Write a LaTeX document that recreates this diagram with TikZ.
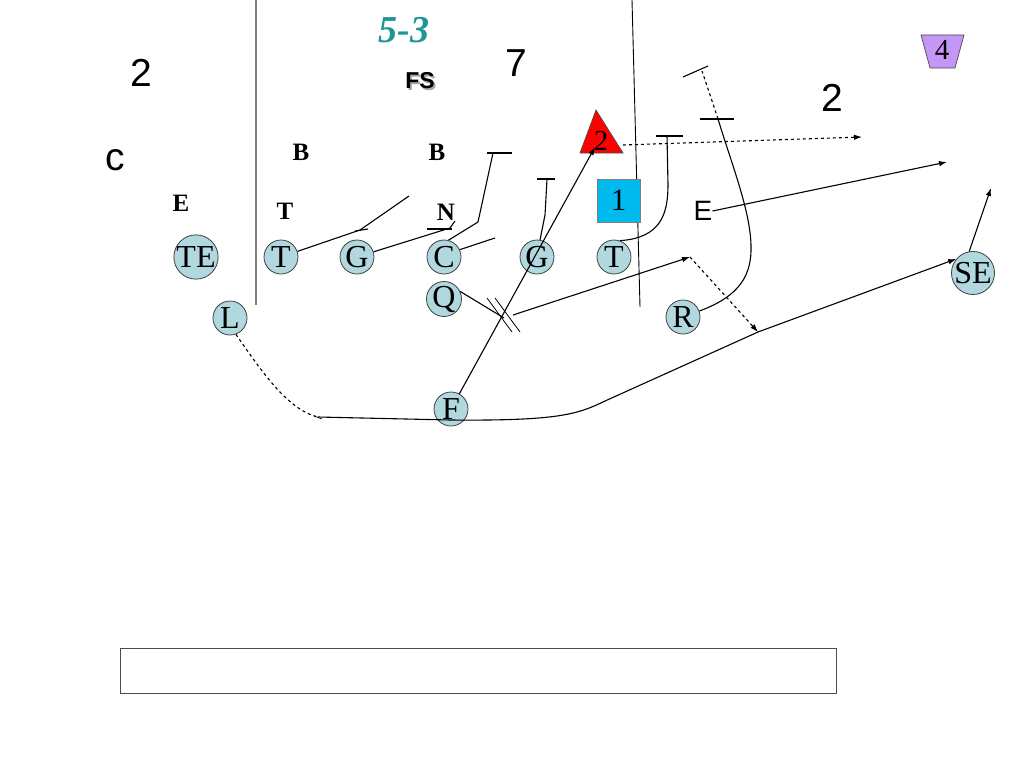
\documentclass[tikz,border=0pt]{standalone}
\usepackage{fontspec}
\setmainfont{Liberation Serif}
\newfontfamily\arial{Liberation Sans}
\usetikzlibrary{arrows.meta}
\definecolor{plblue}{RGB}{176,216,222}
\definecolor{teal53}{RGB}{30,150,150}
\definecolor{sqblue}{RGB}{0,186,238}
\definecolor{trapc}{RGB}{196,150,245}
\begin{document}
\begin{tikzpicture}[x=1pt,y=-1pt,
  player/.style={circle, draw=black!75, line width=0.8pt, fill=plblue, minimum size=34pt, inner sep=0pt, font=\fontsize{32}{32}\selectfont},
  route/.style={line width=1.1pt},
  arr/.style={-{Latex[length=8pt,width=5.5pt]}},
  deflbl/.style={font=\bfseries\fontsize{25}{25}\selectfont, inner sep=0pt},
  bignum/.style={font=\arial\fontsize{39}{39}\selectfont, inner sep=0pt},
  midtxt/.style={font=\arial\fontsize{28}{28}\selectfont, inner sep=0pt},
  shapetxt/.style={font=\fontsize{31}{31}\selectfont, inner sep=0pt}]
\useasboundingbox (0,0) rectangle (1024,768);
\fill[white] (0,0) rectangle (1024,768);

% field lines
\coordinate (v1a) at (256,0); \coordinate (v1b) at (256,305);
\coordinate (v2a) at (632,0); \coordinate (v2b) at (640,307);
\draw[gray, line width=1.8pt] (v1a) -- (v1b);
\draw[line width=0.9pt] (v2a) -- (v2b);

% labels
\node[bignum] (n2a) at (141,73) {2};
\node[bignum] (nc) at (115,160) {c};
\node[font=\bfseries\itshape\fontsize{38}{38}\selectfont, text=teal53, inner sep=0pt] (title) at (404,30) {5-3};
\node[font=\arial\bfseries\fontsize{23}{23}\selectfont, text=black!35, inner sep=0pt] (fsshadow) at (421.8,82.8) {FS};
\node[font=\arial\bfseries\fontsize{23}{23}\selectfont, inner sep=0pt] (fs) at (420,81) {FS};
\node[bignum] (n7) at (516,63) {7};
\node[bignum] (n2b) at (832,98) {2};
\node[deflbl] (b1) at (301,152) {B};
\node[deflbl] (b2) at (437,152) {B};
\node[deflbl] (e1) at (181,203) {E};
\node[deflbl] (t1) at (285,211) {T};
\node[deflbl] (nn) at (446,212) {N};
\node[midtxt] (Eo) at (703,211) {E};

% trapezoid 4
\coordinate (tz1) at (921,35); \coordinate (tz2) at (964,35);
\coordinate (tz3) at (955,68); \coordinate (tz4) at (930,68);
\draw[fill=trapc, draw=black!70, line width=0.7pt] (tz1) -- (tz2) -- (tz3) -- (tz4) -- cycle;
\node[shapetxt, font=\fontsize{29}{29}\selectfont] (four) at (942,50) {4};

% triangle 2
\coordinate (tr1) at (580,153); \coordinate (tr2) at (596,110); \coordinate (tr3) at (623,153);
\draw[fill=red, draw=black!70, line width=0.7pt] (tr1) -- (tr2) -- (tr3) -- cycle;
\node[shapetxt, font=\fontsize{29}{29}\selectfont] (tri) at (601,141) {2};

% square 1
\node[draw=black!50, line width=0.7pt, fill=sqblue, minimum size=43pt, inner sep=0pt, shapetxt] (one) at (618.5,200.5) {1};

% players
\node[player] (TE) at (196,257) {TE};
\node[player] (T1) at (281,257) {T};
\node[player] (G1) at (357,257) {G};
\node[player] (C) at (444,257) {C};
\node[player] (G2) at (537,257) {G};
\node[player] (T2) at (614,257) {T};
\node[player] (Q) at (444,299) {Q};
\node[player] (L) at (230,318) {L};
\node[player] (R) at (683,317) {R};
\node[player] (F) at (451,409) {F};
\node[player] (SE) at (973,273) {SE};

% coordinates
\coordinate (tA) at (360,230); \coordinate (tB) at (409,196);
\coordinate (tb1) at (355,231); \coordinate (tb2) at (368,229);
\coordinate (gA) at (450,228); \coordinate (gB) at (455,221);
\coordinate (gb1) at (427,229); \coordinate (gb2) at (452,229);
\coordinate (cA) at (478,222); \coordinate (cB) at (493,153);
\coordinate (cb1) at (487,153); \coordinate (cb2) at (512,153);
\coordinate (cC) at (495,238);
\coordinate (hA) at (545,215); \coordinate (hB) at (547,179);
\coordinate (hb1) at (537,179); \coordinate (hb2) at (555,179);
\coordinate (kA) at (667,136);
\coordinate (kb1) at (656,136); \coordinate (kb2) at (683,136);
\coordinate (triR) at (623,145); \coordinate (dd) at (862,137);
\coordinate (fE) at (595,147);
\coordinate (qA) at (504,318);
\coordinate (hs1a) at (487,298); \coordinate (hs1b) at (512,332);
\coordinate (hs2a) at (495,298); \coordinate (hs2b) at (520,332);
\coordinate (qB) at (513,315); \coordinate (qC) at (690,257); \coordinate (qD) at (758,332);
\coordinate (seE) at (991,188);
\coordinate (eE) at (947,162);
\coordinate (rA) at (718,119);
\coordinate (rb1) at (700,119); \coordinate (rb2) at (734,119);
\coordinate (rC) at (702,71);
\coordinate (rc1) at (683,77); \coordinate (rc2) at (708,66);
\coordinate (lA) at (318,417); \coordinate (lB) at (450,420); \coordinate (lC) at (605,401);
\coordinate (lt1) at (314,416); \coordinate (lt2) at (322,419);

% blocks
\draw[route] (T1) -- (tA) -- (tB);
\draw[route] (tb1) -- (tb2);
\draw[route] (G1) -- (gA) -- (gB);
\draw[route] (gb1) -- (gb2);
\draw[route] (C.75) -- (cA) -- (cB);
\draw[route] (cb1) -- (cb2);
\draw[route] (C.25) -- (cC);
\draw[route] (G2.80) -- (hA) -- (hB);
\draw[route] (hb1) -- (hb2);
\draw[route] (T2.70) .. controls (660,238) and (668,215) .. (668,185) -- (kA);
\draw[route] (kb1) -- (kb2);

% routes
\draw[route,arr] (F) -- (fE);
\draw[route,dashed,arr] (triR) -- (dd);
\draw[route] (Q.25) -- (qA);
\draw[line width=0.8pt] (hs1a) -- (hs1b);
\draw[line width=0.8pt] (hs2a) -- (hs2b);
\draw[route,arr] (qB) -- (qC);
\draw[route,dashed,arr] (qC) -- (qD);
\draw[route,dashed] (L.290) .. controls (262,372) and (288,410) .. (lA);
\draw[line width=0.6pt] (lt1) -- (lt2);
\draw[route,arr] (lA) -- (lB) .. controls (560,421) and (578,414) .. (lC) -- (qD) -- (SE.140);
\draw[route,arr] (SE.100) -- (seE);
\draw[route,arr] (Eo.east) -- (eE);
\draw[route] (R.20) .. controls (740,296) and (752,275) .. (751,245) .. controls (750,210) and (732,165) .. (rA);
\draw[route] (rb1) -- (rb2);
\draw[route,dashed] (rA) -- (rC);
\draw[route] (rc1) -- (rc2);

% bottom box
\coordinate (bx1) at (120,648); \coordinate (bx2) at (836,693);
\draw[black!70, line width=0.8pt] (bx1) rectangle (bx2);
\end{tikzpicture}
\end{document}
